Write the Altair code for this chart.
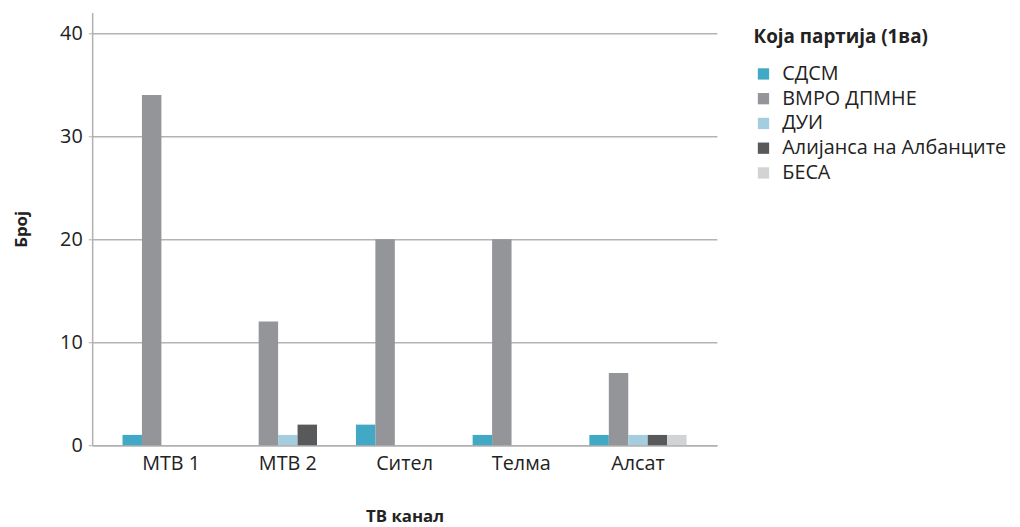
import altair as alt
import pandas as pd

channels = ["МТВ 1", "МТВ 2", "Сител", "Телма", "Алсат"]
parties = ["СДСМ", "ВМРО ДПМНЕ", "ДУИ", "Алијанса на Албанците", "БЕСА"]
colors = ["#41a8c6", "#939598", "#a4cde0", "#58595b", "#d1d3d4"]
values = {
    "МТВ 1": [1, 34, 0, 0, 0],
    "МТВ 2": [0, 12, 1, 2, 0],
    "Сител": [2, 20, 0, 0, 0],
    "Телма": [1, 20, 0, 0, 0],
    "Алсат": [1, 7, 1, 1, 1],
}

rows = []
for c in channels:
    for p, v in zip(parties, values[c]):
        rows.append({"channel": c, "party": p, "count": v})
df = pd.DataFrame(rows)

font = "Open Sans"

chart = alt.Chart(df).mark_bar().encode(
    x=alt.X("channel:N", sort=channels,
            scale=alt.Scale(paddingInner=0.167, paddingOuter=0.26),
            axis=alt.Axis(title="ТВ канал", labelAngle=0, ticks=False,
                          labelPadding=9, titlePadding=35,
                          domainColor="#b0b0b0", domainWidth=1.5)),
    xOffset=alt.XOffset("party:N", sort=parties,
                        scale=alt.Scale(domain=parties, paddingInner=0, paddingOuter=0)),
    y=alt.Y("count:Q", scale=alt.Scale(domain=[0, 42], nice=False),
            axis=alt.Axis(title="Број", values=[0, 10, 20, 30, 40],
                          tickSize=4, tickColor="#b0b0b0", labelPadding=6,
                          titlePadding=29, grid=True, gridColor="#b3b3b3",
                          gridWidth=1.5, domainColor="#b0b0b0", domainWidth=1.5)),
    color=alt.Color("party:N", sort=parties,
                    scale=alt.Scale(domain=parties, range=colors),
                    legend=alt.Legend(title="Која партија (1ва)", orient="none",
                                      legendX=668, legendY=16,
                                      symbolType="square", symbolSize=130,
                                      symbolStrokeWidth=0, rowPadding=5,
                                      titlePadding=17, labelOffset=9)),
).properties(width=631, height=437,
             padding={"left": 5, "top": 2, "right": 5, "bottom": 0})

chart = chart.configure(font=font).configure_view(stroke=None).configure_axis(
    labelFont=font, titleFont=font, labelFontSize=20, titleFontSize=17,
    labelColor="#222222", titleColor="#222222", titleFontWeight="bold",
).configure_legend(
    labelFont=font, titleFont=font, labelFontSize=20, titleFontSize=19,
    labelColor="#222222", titleColor="#222222", titleFontWeight="bold",
    labelLimit=400,
)

chart.save("out.html", embed_options={"renderer": "svg", "actions": False})
